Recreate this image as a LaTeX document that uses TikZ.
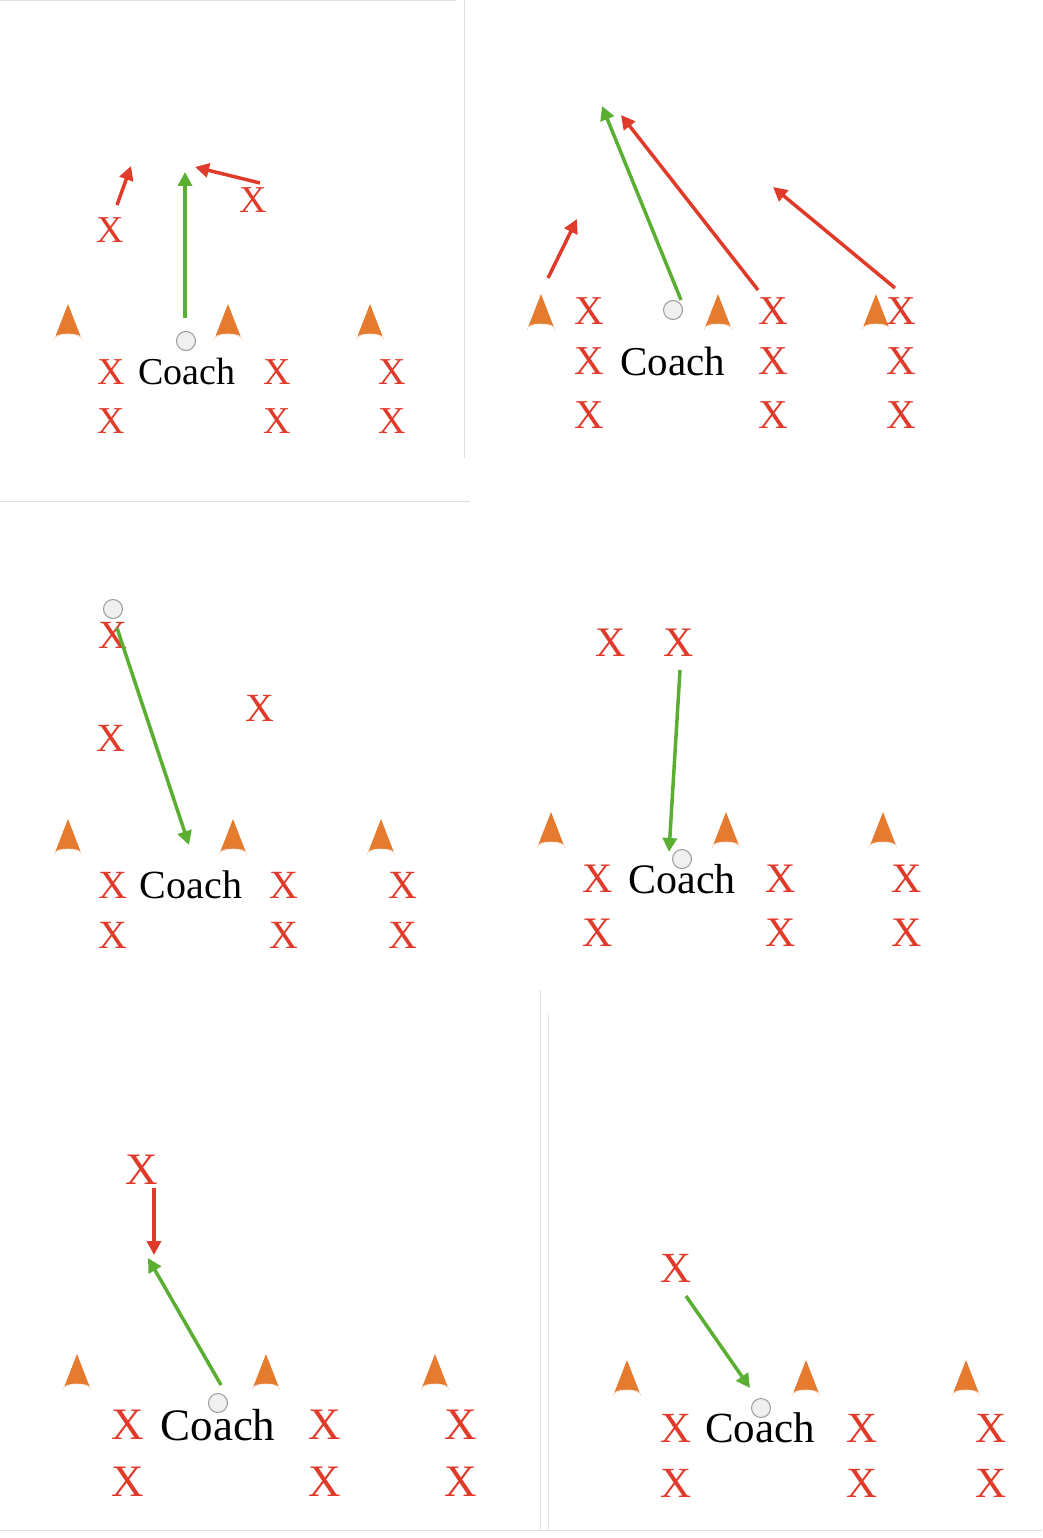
\documentclass[tikz,border=0pt]{standalone}
\usepackage{fontspec}
\setmainfont{Liberation Serif}
\usetikzlibrary{arrows.meta}
\definecolor{xred}{HTML}{E03A2A}
\definecolor{agreen}{HTML}{5AAF32}
\definecolor{cone}{HTML}{E57B2E}
\tikzset{
 px/.style={text=xred,inner sep=0pt},
 ct/.style={text=black,inner sep=0pt},
 garr/.style={draw=agreen,line width=3.5pt,-{Triangle[length=14pt,width=14pt]}},
 rarr/.style={draw=xred,line width=3.5pt,-{Triangle[length=14pt,width=14pt]}},
 ball/.style={circle,draw=gray!80,fill=gray!12,line width=1pt,minimum size=19pt,inner sep=0pt},
 sep/.style={draw=gray!25,line width=1pt}
}
\newcommand{\mycone}[3]{\fill[cone] (#1-14,#2) -- (#1,#2-36) -- (#1+14,#2) arc[start angle=0,end angle=-180,x radius=14,y radius=6] -- cycle;
 \draw[white,line width=0.6pt] (#1-13,#2-2) arc[start angle=180,end angle=360,x radius=13,y radius=4];
 \coordinate (#3) at (#1,#2);}
\begin{document}
\begin{tikzpicture}[x=1pt,y=-1pt]
\useasboundingbox (0,0) rectangle (1042,1538);
% separators
\draw[sep] (0,1) -- (456,1);
\draw[sep] (464,0) -- (464,458);
\draw[sep] (0,501) -- (470,501);
\draw[sep] (540,990) -- (540,1530);
\draw[sep] (548,1015) -- (548,1530);
\draw[sep] (0,1530) -- (1042,1530);
% ---- Panel 1
\mycone{68}{340}{c11}\mycone{228}{340}{c12}\mycone{370}{340}{c13}
\node[ball] (b1) at (186,341) {};
\begin{scope}[font=\fontsize{38}{40}\selectfont]
\node[px] (p1a) at (111,372) {X};
\node[ct] (k1) at (187,372) {Coach};
\node[px] (p1b) at (277,372) {X};
\node[px] (p1c) at (392,372) {X};
\node[px] (p1d) at (111,421) {X};
\node[px] (p1e) at (277,421) {X};
\node[px] (p1f) at (392,421) {X};
\node[px] (p1g) at (110,230) {X};
\node[px] (p1h) at (253,200) {X};
\end{scope}
\coordinate (g1s) at (185,318); \coordinate (g1e) at (185,172);
\draw[garr] (g1s) -- (g1e);
\coordinate (r1a) at (117,205); \coordinate (r1b) at (131,166);
\draw[rarr] (r1a) -- (r1b);
\coordinate (r1c) at (260,183); \coordinate (r1d) at (195,167);
\draw[rarr] (r1c) -- (r1d);
% ---- Panel 2
\mycone{541}{330}{c21}\mycone{718}{330}{c22}\mycone{876}{330}{c23}
\node[ball] (b2) at (673,310) {};
\begin{scope}[font=\fontsize{41}{43}\selectfont]
\node[px] (p2a) at (589,311) {X};
\node[px] (p2b) at (773,311) {X};
\node[px] (p2c) at (901,311) {X};
\node[px] (p2d) at (589,361) {X};
\node[ct] (k2) at (673,361) {Coach};
\node[px] (p2e) at (773,361) {X};
\node[px] (p2f) at (901,361) {X};
\node[px] (p2g) at (589,415) {X};
\node[px] (p2h) at (773,415) {X};
\node[px] (p2i) at (901,415) {X};
\end{scope}
\coordinate (g2s) at (681,300); \coordinate (g2e) at (602,106);
\draw[garr] (g2s) -- (g2e);
\coordinate (r2a) at (758,290); \coordinate (r2b) at (621,115);
\draw[rarr] (r2a) -- (r2b);
\coordinate (r2c) at (895,288); \coordinate (r2d) at (773,187);
\draw[rarr] (r2c) -- (r2d);
\coordinate (r2e) at (548,278); \coordinate (r2f) at (577,219);
\draw[rarr] (r2e) -- (r2f);
% ---- Panel 3
\mycone{68}{855}{c31}\mycone{233}{855}{c32}\mycone{381}{855}{c33}
\begin{scope}[font=\fontsize{40}{42}\selectfont]
\node[px] (p3a) at (113,635) {X};
\node[px] (p3b) at (111,738) {X};
\node[px] (p3c) at (260,708) {X};
\node[px] (p3d) at (113,885) {X};
\node[ct] (k3) at (191,885) {Coach};
\node[px] (p3e) at (284,885) {X};
\node[px] (p3f) at (403,885) {X};
\node[px] (p3g) at (113,935) {X};
\node[px] (p3h) at (284,935) {X};
\node[px] (p3i) at (403,935) {X};
\end{scope}
\node[ball] (b3) at (113,609) {};
\coordinate (g3s) at (117,628); \coordinate (g3e) at (189,845);
\draw[garr] (g3s) -- (g3e);
% ---- Panel 4
\mycone{551}{848}{c41}\mycone{726}{848}{c42}\mycone{883}{848}{c43}
\begin{scope}[font=\fontsize{42}{44}\selectfont]
\node[px] (p4a) at (611,643) {X};
\node[px] (p4b) at (679,643) {X};
\node[px] (p4c) at (598,879) {X};
\node[ct] (k4) at (682,879) {Coach};
\node[px] (p4d) at (781,879) {X};
\node[px] (p4e) at (907,879) {X};
\node[px] (p4f) at (598,933) {X};
\node[px] (p4g) at (781,933) {X};
\node[px] (p4h) at (907,933) {X};
\end{scope}
\node[ball] (b4) at (682,859) {};
\coordinate (g4s) at (680,670); \coordinate (g4e) at (669,852);
\draw[garr] (g4s) -- (g4e);
% ---- Panel 5
\mycone{77}{1390}{c51}\mycone{266}{1390}{c52}\mycone{435}{1390}{c53}
\node[ball] (b5) at (218,1403) {};
\begin{scope}[font=\fontsize{45}{47}\selectfont]
\node[px] (p5a) at (142,1170) {X};
\node[px] (p5b) at (128,1425) {X};
\node[ct] (k5) at (218,1425) {Coach};
\node[px] (p5c) at (325,1425) {X};
\node[px] (p5d) at (461,1425) {X};
\node[px] (p5e) at (128,1482) {X};
\node[px] (p5f) at (325,1482) {X};
\node[px] (p5g) at (461,1482) {X};
\end{scope}
\coordinate (r5a) at (154,1188); \coordinate (r5b) at (154,1255);
\draw[rarr] (r5a) -- (r5b);
\coordinate (g5s) at (221,1385); \coordinate (g5e) at (148,1258);
\draw[garr] (g5s) -- (g5e);
% ---- Panel 6
\mycone{627}{1396}{c61}\mycone{806}{1396}{c62}\mycone{966}{1396}{c63}
\begin{scope}[font=\fontsize{43}{45}\selectfont]
\node[px] (p6a) at (676,1268) {X};
\node[px] (p6b) at (676,1428) {X};
\node[ct] (k6) at (760,1428) {Coach};
\node[px] (p6c) at (862,1428) {X};
\node[px] (p6d) at (991,1428) {X};
\node[px] (p6e) at (676,1483) {X};
\node[px] (p6f) at (862,1483) {X};
\node[px] (p6g) at (991,1483) {X};
\end{scope}
\node[ball] (b6) at (761,1408) {};
\coordinate (g6s) at (686,1296); \coordinate (g6e) at (750,1388);
\draw[garr] (g6s) -- (g6e);
\end{tikzpicture}
\end{document}
